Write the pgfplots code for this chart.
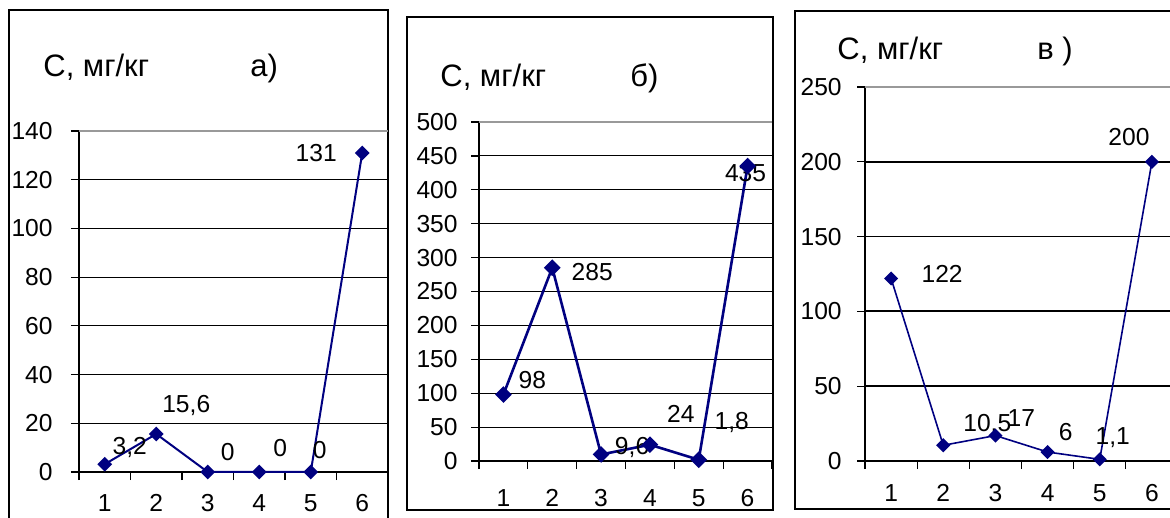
\documentclass[border=0pt]{standalone}
\usepackage{pgfplots}
\pgfplotsset{compat=1.18}
\usepackage{fontspec}
\setmainfont{Liberation Sans}
\definecolor{navy}{HTML}{000080}
\newcommand\tk{\fontsize{12.3}{14}\selectfont}
\newcommand\ttl{\fontsize{15.5}{18}\selectfont}
\pgfplotsset{panel/.style={
  scale only axis, xmin=0.5, xmax=6.5, ymin=0,
  axis lines*=left, clip=false,
  axis line style={black, line width=0.75pt},
  /pgf/number format/assume math mode=true,
  tick align=outside,
  xtick={1,...,6}, major x tick style={draw=none},
  minor xtick={0.5,1.5,...,6.5},
  minor tick length=4pt, major tick length=4pt,
  tick style={black, line width=0.6pt},
  ymajorgrids, grid style={black, line width=0.5pt},
  tick label style={font=\tk, inner sep=0pt},
  yticklabel style={anchor=east, font=\tk},
  xticklabel style={anchor=north, font=\tk},
  extra y tick style={grid style={gray!80, line width=0.6pt}},
  every axis plot/.append style={navy, mark=square*, mark options={rotate=45, fill=navy}},
}}
\begin{document}
\begin{tikzpicture}
\useasboundingbox (0,0) rectangle (585pt,259pt);
\clip (0,0) rectangle (585pt,259pt);
% frames
\draw[line width=0.75pt] (4.5pt,-11pt) -- (4.5pt,254pt) -- (194pt,254pt) -- (194pt,-11pt);
\draw[line width=0.75pt] (203.5pt,4pt) rectangle (386.5pt,250.5pt);
\draw[line width=0.75pt] (600pt,4.5pt) -- (397.5pt,4.5pt) -- (397.5pt,253.5pt) -- (600pt,253.5pt);
% titles
\node[font=\ttl, anchor=base west, inner sep=0pt] at (21.5pt,220.5pt) {С, мг/кг};
\node[font=\ttl, anchor=base west, inner sep=0pt] at (125pt,220.5pt) {а)};
\node[font=\ttl, anchor=base west, inner sep=0pt] at (220pt,215.5pt) {С, мг/кг};
\node[font=\ttl, anchor=base west, inner sep=0pt] at (315pt,215.5pt) {б)};
\node[font=\ttl, anchor=base west, inner sep=0pt] at (418.5pt,229pt) {С, мг/кг};
\node[font=\ttl, anchor=base west, inner sep=0pt] at (518.5pt,229pt) {в )};

\begin{axis}[panel, at={(39.5pt,23pt)}, anchor=south west,
  width=154.5pt, height=170.5pt, ymax=140, ytick={0,20,...,120}, extra y ticks={140},
  yticklabel style={xshift=-9pt}, xticklabel style={yshift=-7pt}]
\addplot[line width=1pt, mark size=2.1pt] coordinates {(1,3.2) (2,15.6) (3,0) (4,0) (5,0) (6,131)};
\node[font=\tk, anchor=base, inner sep=0pt, xshift=12.5pt, yshift=5pt] at (axis cs:1,3.2) {3,2};
\node[font=\tk, anchor=base, inner sep=0pt, xshift=15pt, yshift=11pt] at (axis cs:2,15.6) {15,6};
\node[font=\tk, anchor=base, inner sep=0pt, xshift=10pt, yshift=5.5pt] at (axis cs:3,0) {0};
\node[font=\tk, anchor=base, inner sep=0pt, xshift=10.5pt, yshift=7.5pt] at (axis cs:4,0) {0};
\node[font=\tk, anchor=base, inner sep=0pt, xshift=4.5pt, yshift=6.5pt] at (axis cs:5,0) {0};
\node[font=\tk, anchor=base, inner sep=0pt, xshift=-23pt, yshift=-4.5pt] at (axis cs:6,131) {131};
\end{axis}

\begin{axis}[panel, at={(239.5pt,28.5pt)}, anchor=south west,
  width=146.5pt, height=169.5pt, ymax=500, ytick={0,50,...,450}, extra y ticks={500},
  yticklabel style={xshift=-6.5pt}, xticklabel style={yshift=-10pt}]
\addplot[line width=1.3pt, mark size=2.3pt] coordinates {(1,98) (2,285) (3,9.6) (4,24) (5,1.8) (6,435)};
\node[font=\tk, anchor=base, inner sep=0pt, xshift=14.5pt, yshift=3pt] at (axis cs:1,98) {98};
\node[font=\tk, anchor=base, inner sep=0pt, xshift=20pt, yshift=-6.5pt] at (axis cs:2,285) {285};
\node[font=\tk, anchor=base, inner sep=0pt, xshift=15.5pt, yshift=0pt] at (axis cs:3,9.6) {9,6};
\node[font=\tk, anchor=base, inner sep=0pt, xshift=15.5pt, yshift=11pt] at (axis cs:4,24) {24};
\node[font=\tk, anchor=base, inner sep=0pt, xshift=16.5pt, yshift=15pt] at (axis cs:5,1.8) {1,8};
\node[font=\tk, anchor=base, inner sep=0pt, xshift=-1pt, yshift=-7.5pt] at (axis cs:6,435) {435};
\end{axis}

\begin{axis}[panel, at={(432.5pt,28.5pt)}, anchor=south west,
  width=156.5pt, height=187pt, ymax=250, ytick={0,50,...,200}, extra y ticks={250},
  grid style={black, line width=0.9pt},
  axis line style={black, line width=1.2pt},
  yticklabel style={xshift=-7.5pt}, xticklabel style={yshift=-7.5pt}]
\addplot[line width=0.8pt, mark size=2.1pt] coordinates {(1,122) (2,10.5) (3,17) (4,6) (5,1.1) (6,200)};
\node[font=\tk, anchor=base, inner sep=0pt, xshift=25.5pt, yshift=-2.25pt] at (axis cs:1,122) {122};
\node[font=\tk, anchor=base, inner sep=0pt, xshift=22pt, yshift=7pt] at (axis cs:2,10.5) {10,5};
\node[font=\tk, anchor=base, inner sep=0pt, xshift=13pt, yshift=4.5pt] at (axis cs:3,17) {17};
\node[font=\tk, anchor=base, inner sep=0pt, xshift=9pt, yshift=6pt] at (axis cs:4,6) {6};
\node[font=\tk, anchor=base, inner sep=0pt, xshift=6.5pt, yshift=7.5pt] at (axis cs:5,1.1) {1,1};
\node[font=\tk, anchor=base, inner sep=0pt, xshift=-11.5pt, yshift=8pt] at (axis cs:6,200) {200};
\end{axis}
\end{tikzpicture}
\end{document}
